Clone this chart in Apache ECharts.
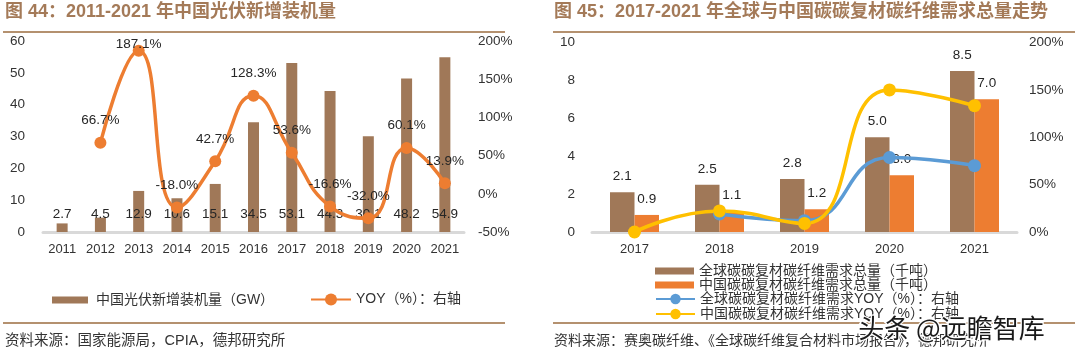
<!DOCTYPE html>
<html>
<head>
<meta charset="utf-8">
<script src="https://cdn.jsdelivr.net/npm/echarts@6/dist/echarts.min.js"></script>
<style>html,body{margin:0;padding:0;background:#fff}#c{width:1080px;height:355px}</style>
</head>
<body>
<div id="c"></div>
<script>
// ---- data ----
const pvYears = ['2011','2012','2013','2014','2015','2016','2017','2018','2019','2020','2021'];
const pvCapacity = [2.7, 4.5, 12.9, 10.6, 15.1, 34.5, 53.1, 44.3, 30.1, 48.2, 54.9];
const pvYoy = [null, 66.7, 187.1, -18.0, 42.7, 128.3, 53.6, -16.6, -32.0, 60.1, 13.9];
const cfYears = ['2017','2018','2019','2020','2021'];
const cfGlobal = [2.1, 2.5, 2.8, 5.0, 8.5];
const cfChina = [0.9, 1.1, 1.2, 3.0, 7.0];
const cfGlobalYoy = [null, 19.0, 12.0, 78.6, 70.0];
const cfChinaYoy = [0, 22.2, 9.1, 150.0, 133.3];
const pvLeftTicks = {min: 0, max: 60, interval: 10};
const pvRightTicks = {min: -50, max: 200, interval: 50};
const cfLeftTicks = {min: 0, max: 10, interval: 2};
const cfRightTicks = {min: 0, max: 200, interval: 50};

const names = {
  pvBar: '中国光伏新增装机量（GW）',
  pvLine: 'YOY（%）：右轴',
  gBar: '全球碳碳复材碳纤维需求总量（千吨）',
  cBar: '中国碳碳复材碳纤维需求总量（千吨）',
  gLine: '全球碳碳复材碳纤维需求YOY（%）：右轴',
  cLine: '中国碳碳复材碳纤维需求YOY（%）：右轴'
};

const FONT = '"Liberation Sans", "Noto Sans CJK SC", sans-serif';
const TXT = '#333333';
const BROWN = '#a07858';
const ORANGE = '#ed7d31';
const BLUE = '#5b9bd5';
const YELLOW = '#ffc000';
const TITLE_C = '#a47a58';
const RULE_C = '#b4916f';

const chart = echarts.init(document.getElementById('c'), null, {renderer: 'canvas'});

const pvYoyData = pvYoy.map(v => v === 187.1 ? {value: v, label: {offset: [0, 16]}} : v);

const xCommon = {
  type: 'category',
  axisLine: {lineStyle: {color: '#d9d9d9', width: 3}},
  axisTick: {show: false},
  axisLabel: {color: TXT, fontSize: 13, fontFamily: FONT, margin: 11},
  splitLine: {show: false}
};
const yCommon = {
  type: 'value',
  axisLine: {show: false},
  axisTick: {show: false},
  splitLine: {show: false},
  axisLabel: {color: TXT, fontSize: 13.5, fontFamily: FONT}
};

chart.setOption({
  animation: false,
  textStyle: {fontFamily: FONT},
  grid: [
    {left: 43, right: 1080 - 464, top: 41, bottom: 355 - 232},
    {left: 592, right: 1080 - 1017, top: 42.5, bottom: 355 - 232}
  ],
  xAxis: [
    Object.assign({}, xCommon, {gridIndex: 0, data: pvYears}),
    Object.assign({}, xCommon, {gridIndex: 1, data: cfYears})
  ],
  yAxis: [
    Object.assign({}, yCommon, pvLeftTicks, {gridIndex: 0, axisLabel: Object.assign({}, yCommon.axisLabel, {margin: 18})}),
    Object.assign({}, yCommon, pvRightTicks, {gridIndex: 0, position: 'right', axisLabel: Object.assign({}, yCommon.axisLabel, {margin: 14, formatter: '{value}%'})}),
    Object.assign({}, yCommon, cfLeftTicks, {gridIndex: 1, axisLabel: Object.assign({}, yCommon.axisLabel, {margin: 17})}),
    Object.assign({}, yCommon, cfRightTicks, {gridIndex: 1, position: 'right', axisLabel: Object.assign({}, yCommon.axisLabel, {margin: 12, formatter: '{value}%'})})
  ],
  legend: [
    {data: [{name: names.pvBar, icon: 'rect'}], left: 52, top: 293, padding: 0, itemWidth: 36, itemHeight: 7,
     textStyle: {color: TXT, fontSize: 14, fontFamily: FONT, padding: [0, 0, 0, 3]}, selectedMode: false},
    {data: [names.pvLine], left: 310, top: 292.5, padding: 0, itemWidth: 40, itemHeight: 15,
     textStyle: {color: TXT, fontSize: 14, fontFamily: FONT}, selectedMode: false},
    {data: [{name: names.gBar, icon: 'rect'}, {name: names.cBar, icon: 'rect'}], orient: 'vertical', left: 655, top: 264, padding: 0,
     itemWidth: 39, itemHeight: 7, itemGap: 0, textStyle: {color: TXT, fontSize: 14, fontFamily: FONT}, selectedMode: false},
    {data: [names.gLine, names.cLine], orient: 'vertical', left: 655, top: 292, padding: 0,
     itemWidth: 39, itemHeight: 13, itemGap: 1, textStyle: {color: TXT, fontSize: 14, fontFamily: FONT}, selectedMode: false}
  ],
  series: [
    {name: names.pvBar, type: 'bar', xAxisIndex: 0, yAxisIndex: 0, data: pvCapacity, barWidth: 11,
     itemStyle: {color: BROWN},
     label: {show: true, position: 'insideBottom', distance: 11, color: '#262626', fontSize: 13.5, fontFamily: FONT}},
    {name: names.pvLine, type: 'line', xAxisIndex: 0, yAxisIndex: 1, data: pvYoyData, smooth: 0.5,
     symbol: 'circle', symbolSize: 12, lineStyle: {color: ORANGE, width: 3.5}, itemStyle: {color: ORANGE},
     label: {show: true, position: 'top', distance: 9.5, color: '#262626', fontSize: 13.5, fontFamily: FONT,
       formatter: p => p.value.toFixed(1) + '%'}},
    {name: names.gBar, type: 'bar', xAxisIndex: 1, yAxisIndex: 2, data: cfGlobal, barWidth: 24.5, barGap: '0%',
     itemStyle: {color: BROWN},
     label: {show: true, position: 'top', distance: 9, color: '#262626', fontSize: 13.5, fontFamily: FONT,
       formatter: p => p.value.toFixed(1)}},
    {name: names.cBar, type: 'bar', xAxisIndex: 1, yAxisIndex: 2, data: cfChina, barWidth: 24.5, barGap: '0%',
     itemStyle: {color: ORANGE},
     label: {show: true, position: 'top', distance: 9, color: '#262626', fontSize: 13.5, fontFamily: FONT,
       formatter: p => p.value.toFixed(1)}},
    {name: names.gLine, type: 'line', xAxisIndex: 1, yAxisIndex: 3, data: cfGlobalYoy, smooth: 0.5,
     symbol: 'circle', symbolSize: 13, lineStyle: {color: BLUE, width: 3.5}, itemStyle: {color: BLUE}},
    {name: names.cLine, type: 'line', xAxisIndex: 1, yAxisIndex: 3, data: cfChinaYoy, smooth: 0.5,
     symbol: 'circle', symbolSize: 13, lineStyle: {color: YELLOW, width: 3.5}, itemStyle: {color: YELLOW}}
  ],
  graphic: [
    {type: 'text', left: 5, top: 3, style: {text: '图 44：2011-2021 年中国光伏新增装机量', fill: TITLE_C,
      font: 'bold 18px ' + FONT}},
    {type: 'text', left: 554, top: 3, style: {text: '图 45：2017-2021 年全球与中国碳碳复材碳纤维需求总量走势', fill: TITLE_C,
      font: 'bold 18px ' + FONT}},
    {type: 'rect', shape: {x: 3, y: 31, width: 502, height: 2}, style: {fill: RULE_C}},
    {type: 'rect', shape: {x: 553, y: 31, width: 522, height: 2}, style: {fill: RULE_C}},
    {type: 'rect', shape: {x: 3, y: 322, width: 502, height: 2}, style: {fill: RULE_C}},
    {type: 'rect', shape: {x: 553, y: 322, width: 522, height: 2}, style: {fill: RULE_C}},
    {type: 'text', left: 5, top: 334, style: {text: '资料来源：国家能源局，CPIA，德邦研究所', fill: TXT,
      font: '14.5px ' + FONT}},
    {type: 'text', left: 554, top: 334, style: {text: '资料来源：赛奥碳纤维、《全球碳纤维复合材料市场报告》，德邦研究所', fill: TXT,
      font: '14px ' + FONT}},
    {type: 'text', left: 857, top: 314, z: 100, style: {text: '头条 @远瞻智库', fill: '#1a1a1a', stroke: '#ffffff', lineWidth: 2.5,
      font: '26px "Noto Sans CJK SC", sans-serif'}}
  ]
});
</script>
</body>
</html>
